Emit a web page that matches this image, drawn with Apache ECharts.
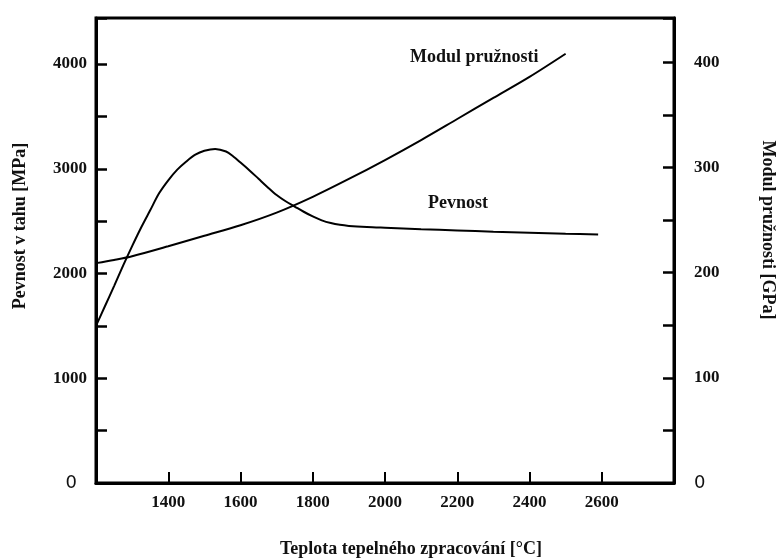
<!DOCTYPE html>
<html>
<head>
<meta charset="utf-8">
<script src="https://cdn.jsdelivr.net/npm/echarts@6/dist/echarts.min.js"></script>
<style>
html,body{margin:0;padding:0;background:#fff;}
#chart{width:778px;height:559px;}
</style>
</head>
<body>
<div id="chart"></div>
<script>
// Data
var pevnostTemp = [1200, 1225, 1250, 1275, 1300, 1325, 1350, 1375, 1400, 1425, 1450, 1475, 1500, 1530, 1560, 1580, 1600, 1625, 1650, 1675, 1700, 1725, 1750, 1775, 1800, 1825, 1850, 1875, 1900, 1950, 2000, 2100, 2200, 2300, 2400, 2500, 2590];
var pevnostVal  = [1500, 1690, 1880, 2075, 2262, 2440, 2604, 2768, 2890, 2992, 3070, 3135, 3172, 3190, 3165, 3118, 3060, 2985, 2905, 2825, 2750, 2690, 2640, 2590, 2545, 2508, 2482, 2465, 2455, 2444, 2437, 2424, 2412, 2400, 2390, 2380, 2372];
var modulTemp = [1200, 1250, 1300, 1400, 1500, 1600, 1700, 1800, 1900, 2000, 2100, 2200, 2300, 2400, 2500];
var modulVal  = [209, 212, 215.5, 225, 235, 245, 257, 272, 289, 307, 326, 346, 366, 386, 408];
var xTicks = [1400, 1600, 1800, 2000, 2200, 2400, 2600];
var leftLabels = [0, 1000, 2000, 3000, 4000];
var rightLabels = [0, 100, 200, 300, 400];

var serif = '"Liberation Serif", "Times New Roman", serif';
var txt = '#111';

function pairs(xs, ys) { return xs.map(function (x, i) { return [x, ys[i]]; }); }

var chart = echarts.init(document.getElementById('chart'));
chart.setOption({
  animation: false,
  backgroundColor: '#fff',
  grid: { left: 96, right: 104, top: 18, bottom: 76, show: true, borderColor: '#000', borderWidth: 3, backgroundColor: 'transparent' },
  xAxis: {
    type: 'value', min: 1200, max: 2800, interval: 200,
    axisLine: { show: true, lineStyle: { color: '#000', width: 3 } },
    axisTick: { show: true, inside: true, length: 11, lineStyle: { color: '#000', width: 2 } },
    splitLine: { show: false },
    axisLabel: {
      margin: 11, color: txt, fontFamily: serif, fontWeight: 'bold', fontSize: 17,
      formatter: function (v) { return xTicks.indexOf(v) >= 0 ? String(v) : ''; }
    }
  },
  yAxis: [{
    type: 'value', min: 0, max: 4440, interval: 500,
    axisLine: { show: true, lineStyle: { color: '#000', width: 3 } },
    axisTick: { show: true, inside: true, length: 11, lineStyle: { color: '#000', width: 2.5 } },
    splitLine: { show: false },
    axisLabel: {
      margin: 9, color: txt, fontFamily: serif, fontWeight: 'bold', fontSize: 17,
      formatter: function (v) {
        if (v === 0) return '{z|0}';
        return leftLabels.indexOf(v) >= 0 ? String(v) : '';
      },
      rich: { z: { fontFamily: '"DejaVu Sans", sans-serif', fontWeight: 'normal', fontSize: 18, color: txt, padding: [0, 10, 0, 0] } }
    }
  }, {
    type: 'value', min: 0, max: 442, interval: 50, position: 'right',
    axisLine: { show: true, lineStyle: { color: '#000', width: 3 } },
    axisTick: { show: true, inside: true, length: 11, lineStyle: { color: '#000', width: 2.5 } },
    splitLine: { show: false },
    axisLabel: {
      margin: 20, color: txt, fontFamily: serif, fontWeight: 'bold', fontSize: 17,
      formatter: function (v) {
        if (v === 0) return '{z|0}';
        return rightLabels.indexOf(v) >= 0 ? String(v) : '';
      },
      rich: { z: { fontFamily: '"DejaVu Sans", sans-serif', fontWeight: 'normal', fontSize: 18, color: txt } }
    }
  }],
  series: [{
    name: 'Pevnost', type: 'line', yAxisIndex: 0, smooth: 0.3, symbol: 'none',
    lineStyle: { color: '#000', width: 2 },
    data: pairs(pevnostTemp, pevnostVal)
  }, {
    name: 'Modul pružnosti', type: 'line', yAxisIndex: 1, smooth: 0.3, symbol: 'none',
    lineStyle: { color: '#000', width: 2 },
    data: pairs(modulTemp, modulVal)
  }],
  graphic: [
    { type: 'text', left: 410, top: 48, style: { text: 'Modul pružnosti', font: 'bold 18px ' + serif, fill: txt } },
    { type: 'text', left: 428, top: 194, style: { text: 'Pevnost', font: 'bold 18px ' + serif, fill: txt } },
    { type: 'text', x: 20, y: 226, rotation: Math.PI / 2, style: { text: 'Pevnost v tahu [MPa]', font: 'bold 18px ' + serif, fill: txt, align: 'center', verticalAlign: 'middle' } },
    { type: 'text', x: 768, y: 230, rotation: -Math.PI / 2, style: { text: 'Modul pružnosti [GPa]', font: 'bold 18px ' + serif, fill: txt, align: 'center', verticalAlign: 'middle' } },
    { type: 'text', x: 411, y: 549, style: { text: 'Teplota tepelného zpracování [°C]', font: 'bold 18px ' + serif, fill: txt, align: 'center', verticalAlign: 'middle' } }
  ]
});
</script>
</body>
</html>
